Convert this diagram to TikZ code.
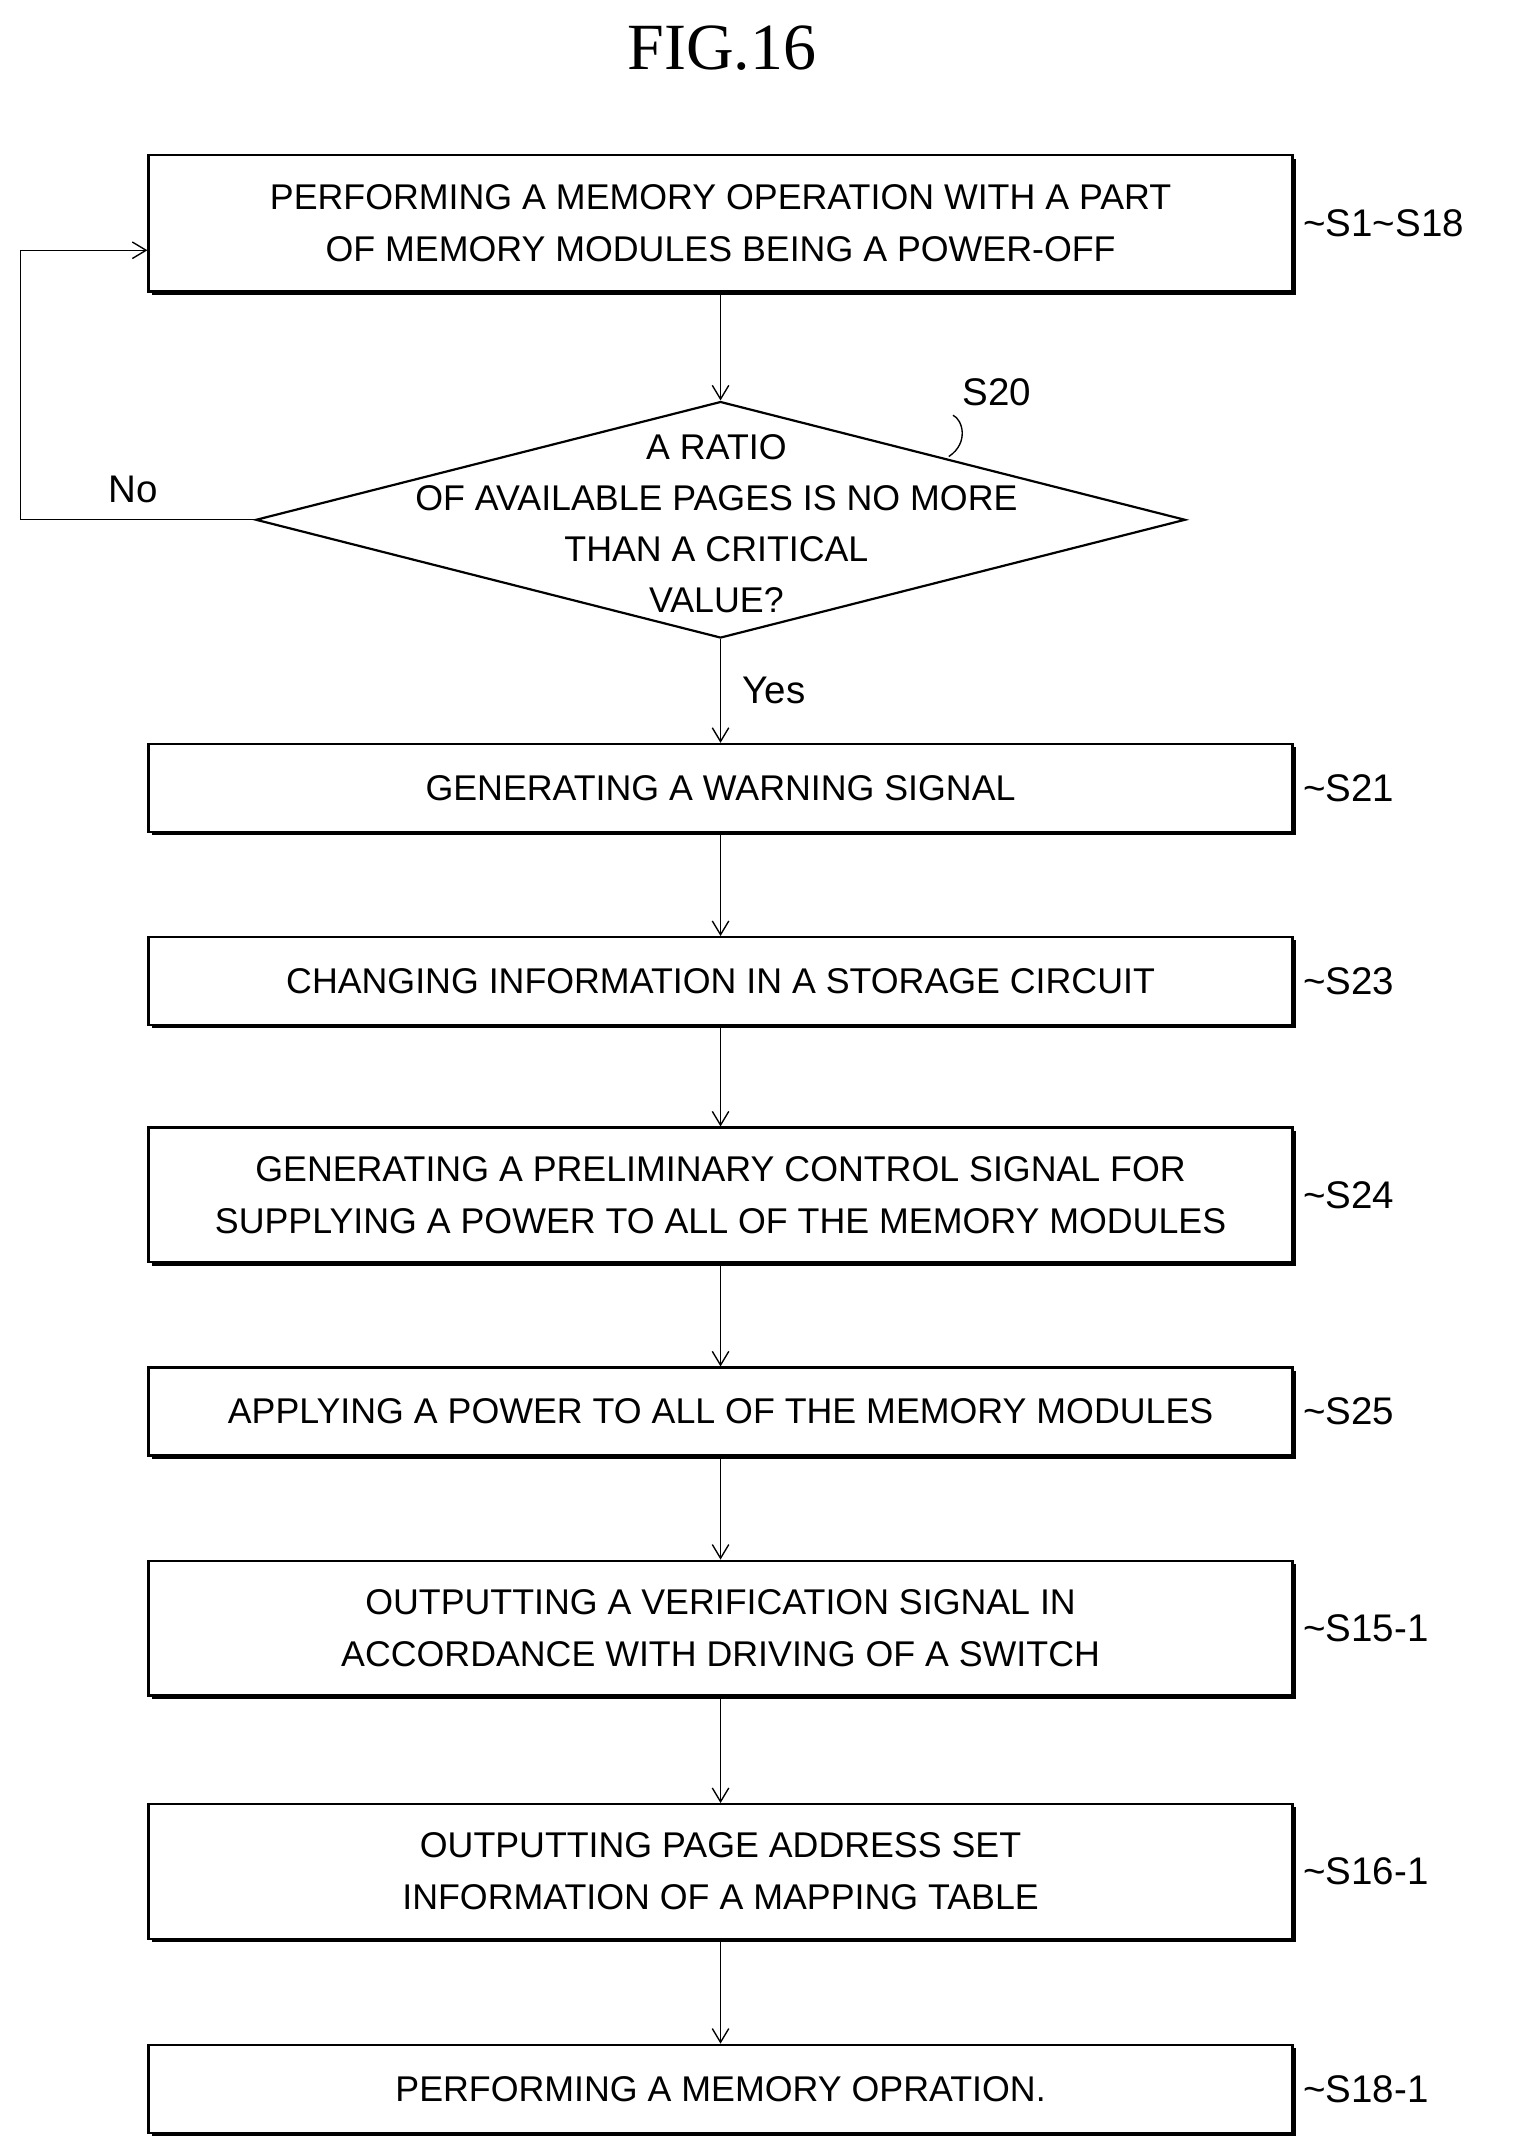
\documentclass[tikz,border=0pt]{standalone}
\usepackage{fontspec}
\setmainfont{Liberation Sans}
\newfontfamily\titlefont{Liberation Serif}
\usetikzlibrary{shapes.geometric,shadows,arrows.meta}
\begin{document}
\begin{tikzpicture}[x=0.5pt,y=-0.5pt,
  box/.style={draw,line width=0.8pt,fill=white,minimum width=416pt,align=center,font=\fontsize{13}{19}\selectfont,
     drop shadow={shadow xshift=1.2pt,shadow yshift=-1.2pt,fill=black,opacity=1}},
  lab/.style={anchor=west,font=\fontsize{14}{16}\selectfont},
  arr/.style={-{Straight Barb[length=5pt,width=6pt]},line width=0.5pt}]
\useasboundingbox (0,0) rectangle (1100,1565);
\node[font=\titlefont\fontsize{24}{26}\selectfont] (t) at (525,35) {FIG.16};
\node[box,minimum height=49.5pt] (b1) at (524,162.5) {PERFORMING A MEMORY OPERATION WITH A PART\\OF MEMORY MODULES BEING A POWER-OFF};
\node[draw,diamond,aspect=3.9,minimum width=338pt,minimum height=86pt,inner sep=0pt,line width=0.8pt] (d) at (524,378) {};
\node[align=center,font=\fontsize{13}{18.5}\selectfont] (dt) at (521,381) {A RATIO\\OF AVAILABLE PAGES IS NO MORE\\THAN A CRITICAL\\VALUE?};
\node[box,minimum height=32pt] (b21) at (524,573) {GENERATING A WARNING SIGNAL};
\node[box,minimum height=32pt] (b23) at (524,713.5) {CHANGING INFORMATION IN A STORAGE CIRCUIT};
\node[box,minimum height=49pt] (b24) at (524,869) {GENERATING A PRELIMINARY CONTROL SIGNAL FOR\\SUPPLYING A POWER TO ALL OF THE MEMORY MODULES};
\node[box,minimum height=32pt] (b25) at (524,1026.5) {APPLYING A POWER TO ALL OF THE MEMORY MODULES};
\node[box,minimum height=49pt] (b151) at (524,1184) {OUTPUTTING A VERIFICATION SIGNAL IN\\ACCORDANCE WITH DRIVING OF A SWITCH};
\node[box,minimum height=49pt] (b161) at (524,1361) {OUTPUTTING PAGE ADDRESS SET\\INFORMATION OF A MAPPING TABLE};
\node[box,minimum height=32pt] (b181) at (524,1519) {PERFORMING A MEMORY OPRATION.};
\foreach \n/\t in {b1/S1\textasciitilde S18,b21/S21,b23/S23,b24/S24,b25/S25,b151/S15-1,b161/S16-1,b181/S18-1}
  \node[lab] (l\n) at ([xshift=0pt]\n.east) {\textasciitilde\t};
\node[lab,anchor=center] (s20) at (725,285) {S20};
\coordinate (s20a) at (690,332);
\draw[line width=0.5pt] (s20a) .. controls (705,322) and (700,305) .. (s20.south west);
\draw[arr] (b1) -- (d);
\draw[arr] (d) -- (b21);
\draw[arr] (b21) -- (b23);
\draw[arr] (b23) -- (b24);
\draw[arr] (b24) -- (b25);
\draw[arr] (b25) -- (b151);
\draw[arr] (b151) -- (b161);
\draw[arr] (b161) -- (b181);
\draw[arr] (d.west) -- (15,378) -- (15,182) -- (b1.west |- 0,182);
\node[lab,anchor=center] (no) at (97,356) {No};
\node[lab,anchor=center] (yes) at (563,502) {Yes};
\end{tikzpicture}
\end{document}
